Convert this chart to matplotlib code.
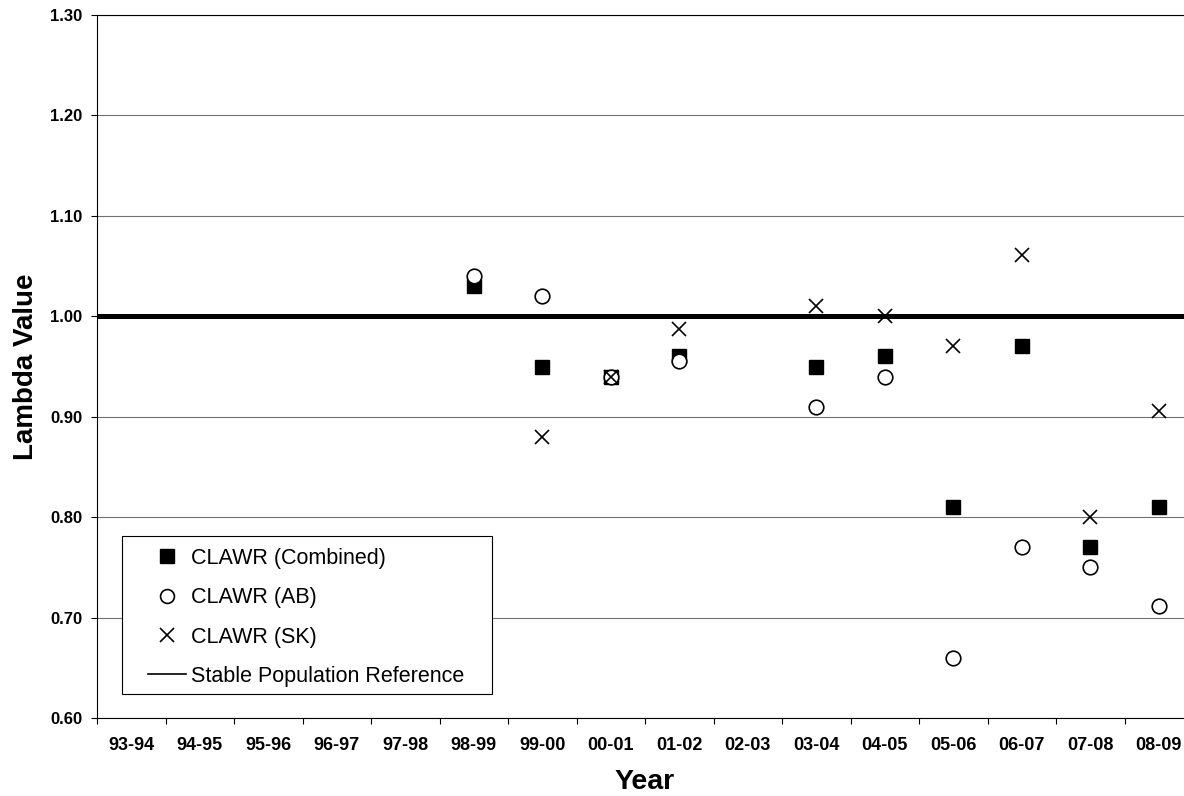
import numpy as np
import matplotlib.pyplot as plt
from matplotlib.patches import Rectangle

plt.rcParams['font.family'] = ['Liberation Sans', 'DejaVu Sans']

# seasons on the x axis
years = ['93-94', '94-95', '95-96', '96-97', '97-98', '98-99', '99-00', '00-01',
         '01-02', '02-03', '03-04', '04-05', '05-06', '06-07', '07-08', '08-09']

nan = np.nan
# lambda values (nan = no value that year)
combined = [nan, nan, nan, nan, nan, 1.03, 0.95, 0.94, 0.96, nan, 0.95, 0.96, 0.81, 0.97, 0.77, 0.81]
ab = [nan, nan, nan, nan, nan, 1.04, 1.02, 0.94, 0.955, nan, 0.91, 0.94, 0.66, 0.77, 0.75, 0.712]
sk = [nan, nan, nan, nan, nan, nan, 0.88, 0.94, 0.987, nan, 1.01, 1.00, 0.97, 1.061, 0.80, 0.906]
stable = 1.0

W, H = 1184, 796
x = np.arange(len(years))

fig = plt.figure(figsize=(W / 100, H / 100), dpi=100)
# plot area runs a little past the right edge of the picture
ax = fig.add_axes([97 / W, 1 - 718 / H, 1096 / W, 703 / H])

ax.set_ylim(0.6, 1.3)
ax.set_xlim(-0.5, len(years) - 0.5)
yt = np.arange(0.6, 1.31, 0.1)
ax.set_yticks(yt)
ax.set_yticklabels([f'{v:.2f}' for v in yt])
ax.grid(axis='y', color='#707070', lw=0.8)
ax.set_axisbelow(True)

# category labels centred, tick marks between categories
ax.set_xticks(np.arange(-0.5, len(years), 1.0))
ax.set_xticklabels([])
ax.set_xticks(x, minor=True)
ax.set_xticklabels(years, minor=True)
ax.tick_params(axis='x', which='major', length=4.5, width=0.8, direction='out')
ax.tick_params(axis='x', which='minor', length=0, pad=14, labelsize=13)
ax.tick_params(axis='y', length=4.5, width=0.8, direction='out', pad=6, labelsize=12)
for lab in ax.get_xticklabels(minor=True) + ax.get_yticklabels():
    lab.set_fontweight('bold')

ax.axhline(stable, color='black', lw=3.6, zorder=2, label='Stable Population Reference')
ax.plot(x, combined, 's', ms=10.5, color='black', zorder=3, label='CLAWR (Combined)')
ax.plot(x, ab, 'o', ms=10.5, mfc='white', mec='black', mew=1.2, zorder=4, label='CLAWR (AB)')
ax.plot(x, sk, 'x', ms=10.5, color='black', mew=1.2, zorder=5, label='CLAWR (SK)')

# axis titles
fig.text(33 / W, 1 - 367 / H, 'Lambda Value', rotation=90, rotation_mode='anchor',
         ha='center', va='baseline', fontsize=20, fontweight='bold')
fig.text(645 / W, 1 - 789 / H, 'Year', ha='center', va='baseline',
         fontsize=20.5, fontweight='bold')

handles, labels = ax.get_legend_handles_labels()
order = [1, 2, 3, 0]
leg = ax.legend([handles[i] for i in order], [labels[i] for i in order],
                loc='upper left', bbox_to_anchor=(148 / W, 1 - 548 / H),
                bbox_transform=fig.transFigure, borderaxespad=0, borderpad=0,
                frameon=False, fontsize=15.5, labelspacing=0.85, handlelength=1.75,
                handletextpad=0.25, markerscale=0.95)
leg.legend_handles[3].set_linewidth(1.2)
leg.set_zorder(10)
# legend frame, drawn under the legend entries
ax.add_patch(Rectangle((122 / W, 1 - 694 / H), 370 / W, 158 / H,
                       transform=fig.transFigure, facecolor='white',
                       edgecolor='black', lw=0.8, zorder=9, clip_on=False))

fig.savefig('out.png', dpi=100)
